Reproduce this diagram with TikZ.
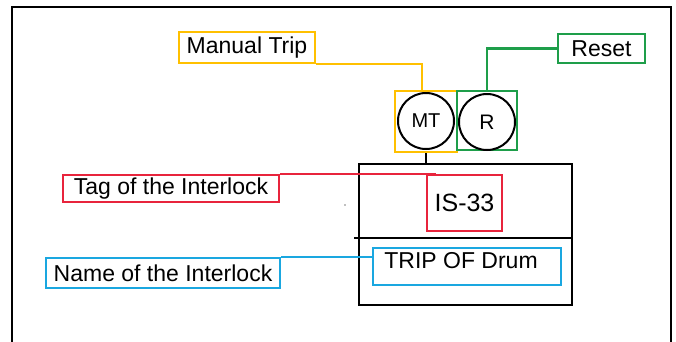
\documentclass[tikz,border=0pt]{standalone}
\usepackage{fontspec}
\setmainfont{Liberation Sans}
\definecolor{yel}{HTML}{FFC000}
\definecolor{grn}{HTML}{1E9E4A}
\definecolor{rd}{HTML}{E8243C}
\definecolor{blu}{HTML}{1AA7E0}
\begin{document}
\begin{tikzpicture}[x=1pt,y=-1pt,
  lbl/.style={draw,rectangle,line width=2.4pt,inner sep=0pt,font=\fontsize{23}{23}\selectfont},
  sq/.style={draw,rectangle,line width=2.4pt,inner sep=0pt},
  circ/.style={draw,circle,line width=2pt,inner sep=0pt,minimum size=56pt},
  conn/.style={line width=2.4pt}]
\useasboundingbox (0,0) rectangle (676,341);
\begin{scope}
\clip (0,0) rectangle (676,341);
\draw[line width=2.8pt] (12,350) -- (12,7) -- (671,7) -- (671,350);
\end{scope}
% labels
\node[lbl,yel,text=black,minimum width=136pt,minimum height=31pt] (mtlabel) at (247,47.5) {Manual Trip};
\node[lbl,grn,text=black,minimum width=87pt,minimum height=29pt] (reslabel) at (601.5,48.5) {Reset};
\node[lbl,rd,text=black,minimum width=216pt,minimum height=27pt] (tag) at (171,188.5) {Tag of the Interlock};
\node[lbl,blu,text=black,minimum width=234pt,minimum height=30pt] (name) at (163,273) {Name of the Interlock};
% main box
\node[sq,black,line width=2.8pt,minimum width=213pt,minimum height=141pt] (main) at (465.5,234.5) {};
\draw[line width=2.8pt] (354,238) -- (573,238);
% squares and circles
\node[sq,yel,minimum width=62pt,minimum height=61pt] (mtsq) at (426,121.5) {};
\node[sq,grn,minimum width=60pt,minimum height=59pt] (rsq) at (487,120.5) {};
\node[circ,font=\fontsize{20}{20}\selectfont] (mtc) at (426,121) {MT};
\node[circ,font=\fontsize{21}{21}\selectfont] (rc) at (487,122) {R};
% IS-33 and TRIP
\node[sq,rd,text=black,minimum width=75pt,minimum height=56pt,font=\fontsize{25}{25}\selectfont] (is) at (464.5,203) {IS-33};
\node[sq,blu,minimum width=188pt,minimum height=37pt] (trip) at (467,266.5) {};
\node[font=\fontsize{23}{23}\selectfont,inner sep=0pt] (triptxt) at (461,261) {TRIP OF Drum};
% connectors
\draw[conn,yel] (mtlabel.south east) -| ([xshift=-4pt]mtsq.north);
\draw[conn,grn] (reslabel.west) -| (rsq.north);
\draw[line width=2.4pt] (mtsq.south) -- (mtsq.south |- main.north);
\draw[conn,rd] (tag.north east) -- ([xshift=10pt]is.north west);
\draw[conn,blu] (name.north east) -- (name.north east -| trip.west);
\fill[gray] (345,205) circle (0.8pt);
\end{tikzpicture}
\end{document}
